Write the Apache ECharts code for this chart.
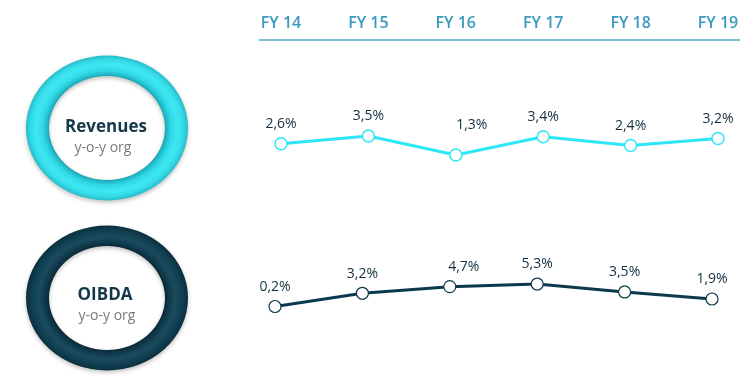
<!DOCTYPE html>
<html>
<head>
<meta charset="utf-8">
<script src="https://cdn.jsdelivr.net/npm/echarts@6/dist/echarts.min.js"></script>
<style>
html,body{margin:0;padding:0;background:#fff;}
#chart{width:750px;height:375px;}
</style>
</head>
<body>
<div id="chart"></div>
<script>
var categories = ['FY 14', 'FY 15', 'FY 16', 'FY 17', 'FY 18', 'FY 19'];
var revenues = [2.6, 3.5, 1.3, 3.4, 2.4, 3.2];
var oibda = [0.2, 3.2, 4.7, 5.3, 3.5, 1.9];
var ringTitles = ['Revenues', 'OIBDA'];
var ringSubtitle = 'y-o-y org';

function fmt(p) { return p.value.toFixed(1).replace('.', ',') + '%'; }

function withOffsets(arr, offsets) {
  return arr.map(function (v, i) {
    var o = offsets[i];
    return o ? { value: v, label: { offset: o } } : v;
  });
}

var chart = echarts.init(document.getElementById('chart'));

function ring(cx, cy, stops) {
  return {
    type: 'ring',
    x: cx, y: cy,
    scaleY: 0.895,
    shape: { cx: 0, cy: 0, r: 81, r0: 58 },
    style: {
      fill: { type: 'radial', x: 0.5, y: 0.5, r: 0.5, colorStops: stops },
      shadowBlur: 4, shadowColor: 'rgba(0,0,0,0.25)', shadowOffsetY: 2
    },
    silent: true
  };
}

var option = {
  backgroundColor: '#ffffff',
  animation: false,
  grid: [
    { left: 281, right: 32, top: 123, height: 43.2 },
    { left: 275, right: 38, top: 263.3, height: 44.1 }
  ],
  xAxis: [
    {
      gridIndex: 0, type: 'category', data: categories, boundaryGap: false,
      position: 'top', offset: 83,
      axisLine: { show: false }, axisTick: { show: false }, splitLine: { show: false },
      axisLabel: { color: '#3a9bbf', fontSize: 16, fontWeight: 600, fontFamily: 'Open Sans', margin: 9 }
    },
    {
      gridIndex: 1, type: 'category', data: categories, boundaryGap: false, show: false
    }
  ],
  yAxis: [
    { gridIndex: 0, type: 'value', min: 0, max: 5, show: false },
    { gridIndex: 1, type: 'value', min: 0, max: 10, show: false }
  ],
  series: [
    {
      type: 'line', xAxisIndex: 0, yAxisIndex: 0,
      data: withOffsets(revenues, { 2: [16, -10] }),
      symbol: 'circle', symbolSize: 12,
      lineStyle: { color: '#2fe6f6', width: 3 },
      itemStyle: { color: '#ffffff', borderColor: '#2fe6f6', borderWidth: 1.5 },
      label: { show: true, position: 'top', distance: 6, formatter: fmt,
        color: '#12303f', fontSize: 14, fontFamily: 'Open Sans' },
      z: 3
    },
    {
      type: 'line', xAxisIndex: 1, yAxisIndex: 1,
      data: withOffsets(oibda, { 2: [14, 0] }),
      symbol: 'circle', symbolSize: 12,
      lineStyle: { color: '#0c3a4c', width: 3 },
      itemStyle: { color: '#ffffff', borderColor: '#0c3a4c', borderWidth: 1.2 },
      label: { show: true, position: 'top', distance: 6, formatter: fmt,
        color: '#12303f', fontSize: 14, fontFamily: 'Open Sans' },
      z: 3
    }
  ],
  graphic: [
    {
      type: 'line', silent: true,
      shape: { x1: 259, y1: 40, x2: 740, y2: 40 },
      style: { stroke: '#78bdd4', lineWidth: 2 }
    },
    ring(107, 128, [
      { offset: 0, color: '#1598a6' },
      { offset: 0.70, color: '#1598a6' },
      { offset: 0.73, color: '#1fb0be' },
      { offset: 0.79, color: '#30d6e4' },
      { offset: 0.87, color: '#3ee8f3' },
      { offset: 0.94, color: '#35dce8' },
      { offset: 1, color: '#24bcc9' }
    ]),
    ring(107, 298, [
      { offset: 0, color: '#06222e' },
      { offset: 0.70, color: '#06222e' },
      { offset: 0.75, color: '#0d3445' },
      { offset: 0.84, color: '#1a4b5d' },
      { offset: 0.93, color: '#113f51' },
      { offset: 1, color: '#0a2f3e' }
    ]),
    {
      type: 'text', x: 106, y: 127, silent: true,
      style: { text: ringTitles[0], fill: '#15374a', font: 'bold 17px "Open Sans"', align: 'center', verticalAlign: 'middle' }
    },
    {
      type: 'text', x: 103, y: 148, silent: true,
      style: { text: ringSubtitle, fill: '#7a7a7a', font: '14px "Open Sans"', align: 'center', verticalAlign: 'middle' }
    },
    {
      type: 'text', x: 105, y: 295, silent: true,
      style: { text: ringTitles[1], fill: '#15374a', font: 'bold 17px "Open Sans"', align: 'center', verticalAlign: 'middle' }
    },
    {
      type: 'text', x: 107, y: 316, silent: true,
      style: { text: ringSubtitle, fill: '#7a7a7a', font: '14px "Open Sans"', align: 'center', verticalAlign: 'middle' }
    }
  ]
};
chart.setOption(option);
</script>
</body>
</html>
